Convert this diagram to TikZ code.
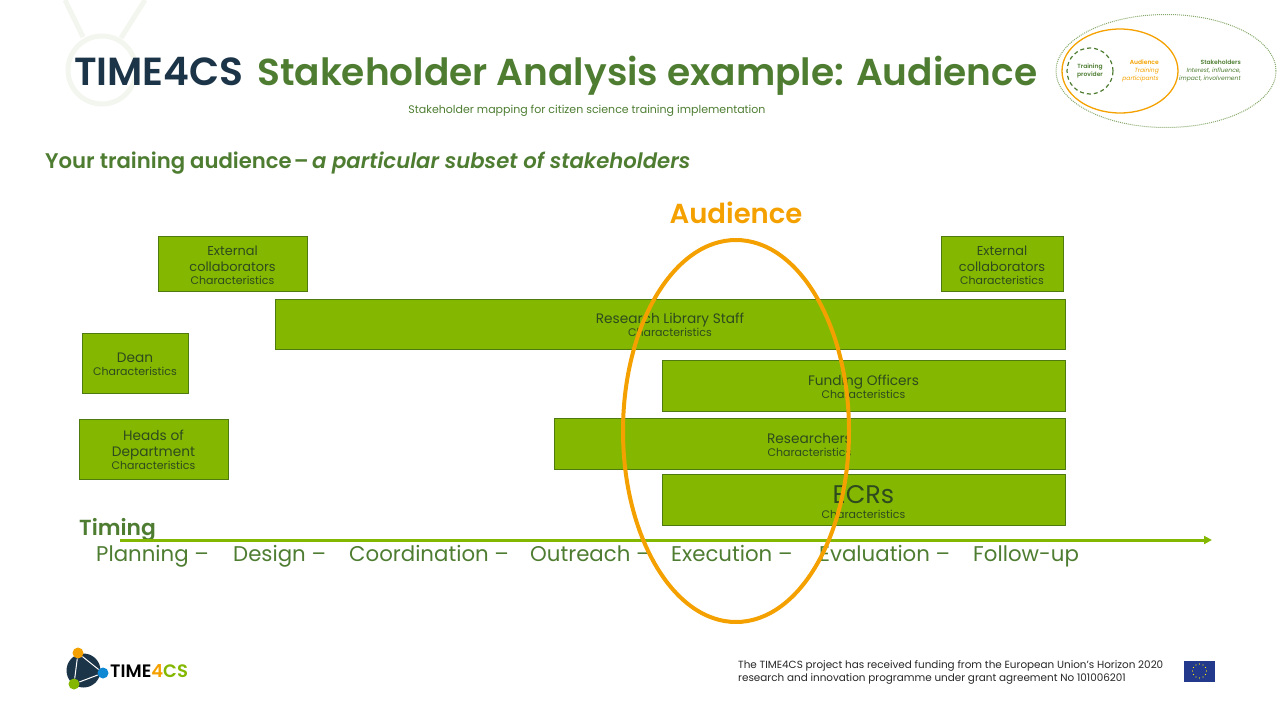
\documentclass[tikz,border=0pt]{standalone}
\usepackage{fontspec}
\setmainfont{Poppins}[BoldFont={Poppins SemiBold},BoldItalicFont={Poppins SemiBold Italic}]
\usetikzlibrary{calc,shapes.geometric,arrows.meta}
\definecolor{titlegreen}{HTML}{4E7D32}
\definecolor{barfill}{HTML}{84B800}
\definecolor{barline}{HTML}{4F7A10}
\definecolor{bartext}{HTML}{2E4A1E}
\definecolor{navy}{HTML}{1C3448}
\definecolor{audorange}{HTML}{F4A100}
\definecolor{ghost}{HTML}{F3F6EE}
\definecolor{mapdots}{HTML}{86A86A}
\definecolor{flagblue}{HTML}{233A8C}
\begin{document}
\begin{tikzpicture}[x=1pt,y=-1pt]

\tikzset{barnode/.style={draw=barline,fill=barfill,text=bartext,inner sep=0pt,align=center,font=\fontsize{13.7}{16}\selectfont},
phase/.style={text=titlegreen,inner sep=0pt,anchor=base west,font=\fontsize{21.3}{24}\selectfont},
headline/.style={text=titlegreen,inner sep=0pt,anchor=base west,font=\bfseries},
insettext/.style={inner sep=0pt,align=right,anchor=east,font=\fontsize{6}{7.6}\selectfont}}
\newcommand{\barstrut}{\rule{0pt}{13pt}}
\newcommand{\charline}{\\[-3pt]{\fontsize{11}{12}\selectfont Characteristics}}

\useasboundingbox (0,0) rectangle (1280,720);

% Faint mark behind the name
\draw[ghost,line width=5pt] (102,70) circle (34);
\draw[ghost,line width=5pt] (65,0) -- (83,37); \draw[ghost,line width=5pt] (145,0) -- (121,38);

% Heading
\node[headline,text=navy,font=\fontsize{39.2}{40}\selectfont\bfseries] (brand) at (74,85) {TIME4CS};
\node[headline,font=\fontsize{37.5}{40}\selectfont\bfseries] (title) at (257,85) {Stakeholder Analysis example: Audience};
\node[text=titlegreen,inner sep=0pt,anchor=base,font=\fontsize{11}{13}\selectfont] (subtitle) at (587,113) {Stakeholder mapping for citizen science training implementation};
\node[headline,font=\fontsize{21.2}{24}\selectfont\bfseries] (lead) at (45,168) {Your training audience\hspace{0.1em}--\hspace{0.15em}\textit{a particular subset of stakeholders}};

% Small map of the groups
\node[draw=mapdots,densely dotted,line width=1pt,ellipse,minimum width=220pt,minimum height=113pt,inner sep=0pt] (mapouter) at (1166,71) {};
\node[draw=audorange,line width=1.3pt,ellipse,minimum width=116pt,minimum height=84pt,inner sep=0pt] (mapaud) at (1120,71) {};
\node[draw=titlegreen,dash pattern=on 4pt off 3pt,line width=1.2pt,circle,minimum size=46pt,inner sep=0pt] (mapprov) at (1090,71) {};
\node[insettext,anchor=center,align=center,text=titlegreen] (tprov) at (1090,71) {\textbf{Training}\\\textbf{provider}};
\node[insettext,text=audorange] (taud) at (1159,71) {\textbf{Audience}\\\textit{Training}\\\textit{participants}};
\node[insettext,text=titlegreen] (tstake) at (1241,71) {\textbf{Stakeholders}\\\textit{Interest, influence,}\\\textit{impact, involvement}};

% Bars
\node[barnode,minimum width=149pt,minimum height=55pt,font=\fontsize{12.9}{16}\selectfont] (ext1) at (232.5,263.5) {\barstrut External\\collaborators\charline};
\node[barnode,minimum width=122pt,minimum height=55pt,font=\fontsize{12.9}{16}\selectfont] (ext2) at (1002,263.5) {\barstrut External\\collaborators\charline};
\node[barnode,minimum width=790pt,minimum height=50pt] (library) at (670,324) {\barstrut Research Library Staff\charline};
\node[barnode,minimum width=106pt,minimum height=60pt] (dean) at (135,363) {\barstrut Dean\charline};
\node[barnode,minimum width=403pt,minimum height=51pt] (funding) at (863.5,385.5) {\barstrut Funding Officers\charline};
\node[barnode,minimum width=149pt,minimum height=60pt] (heads) at (153.5,449) {\barstrut Heads of\\Department\charline};
\node[barnode,minimum width=511pt,minimum height=51pt] (researchers) at (809.5,443.5) {\barstrut Researchers\charline};
\node[barnode,minimum width=403pt,minimum height=51pt] (ecrs) at (863.5,499.5) {\rule{0pt}{24pt}{\fontsize{25.5}{25}\selectfont ECRs}\\[-1pt]{\fontsize{11}{12}\selectfont Characteristics}};

% Timing
\node[headline,font=\fontsize{21.8}{24}\selectfont\bfseries] (timing) at (79,535) {Timing};
\coordinate (tstart) at (120,540);
\coordinate (tend) at (1212,540);
\draw[barfill,line width=3pt,-{Triangle[length=8pt,width=8pt]}] (tstart) -- (tend);
\node[phase] (p1) at (96,561) {Planning --};
\node[phase] (p2) at (233,561) {Design --};
\node[phase] (p3) at (349,561) {Coordination --};
\node[phase] (p4) at (530,561) {Outreach --};
\node[phase] (p5) at (671,561) {Execution --};
\node[phase] (p6) at (819,561) {Evaluation --};
\node[phase] (p7) at (973,561) {Follow-up};

% Audience ring
\node[draw=audorange,line width=4pt,ellipse,minimum width=226pt,minimum height=382pt,inner sep=0pt] (ring) at (736,431) {};
\node[text=audorange,inner sep=0pt,anchor=base,font=\fontsize{27.5}{30}\selectfont\bfseries] (ringlabel) at (736,223) {Audience};

% Logo
\fill[navy] (83.5,670.5) circle (17);
\node[fill=audorange,circle,minimum size=11pt,inner sep=0pt] (lg1) at (78,653) {};
\node[fill=cyan!70!blue,circle,minimum size=11pt,inner sep=0pt] (lg2) at (103,673) {};
\node[fill=barfill,circle,minimum size=11pt,inner sep=0pt] (lg3) at (74,684) {};
\draw[white,line width=1pt] (lg1) -- (lg2) -- (lg3) -- (lg1);
\node[inner sep=0pt,anchor=west,font=\fontsize{18}{20}\selectfont\bfseries] (logotext) at (110,671) {TIME\textcolor{audorange}{4}\textcolor{barfill}{CS}};

% Funding note
\node[inner sep=0pt,anchor=west,align=left,text=black!85,font=\fontsize{10.4}{12.7}\selectfont] (note) at (738,672.5) {The TIME4CS project has received funding from the European Union’s Horizon 2020\\research and innovation programme under grant agreement No 101006201};
\node[fill=flagblue,minimum width=31pt,minimum height=21pt,inner sep=0pt] (flag) at (1199.5,671) {};
\foreach \a in {0,30,...,330}{\fill[yellow] ($(flag)+(\a:7)$) circle (0.6);}

\end{tikzpicture}
\end{document}
